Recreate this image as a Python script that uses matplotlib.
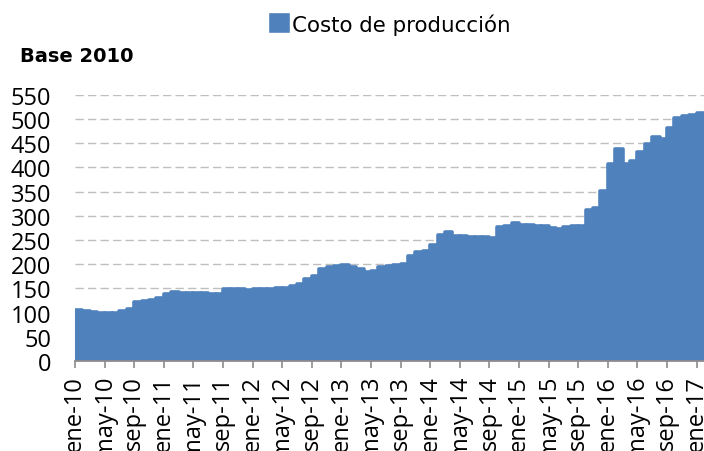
import matplotlib
matplotlib.use("Agg")
import matplotlib.pyplot as plt

azul = "#4F81BD"

meses = ["ene", "feb", "mar", "abr", "may", "jun",
         "jul", "ago", "sep", "oct", "nov", "dic"]
anios = ["10", "11", "12", "13", "14", "15", "16", "17"]

# ene-10 .. ene-17, indice base 2010
costo = [105, 104, 102, 99.5, 99, 100, 103, 107.5, 122, 124.5, 126.5, 129.5,
         137.5, 141.5, 140.5, 139.5, 141, 140, 138.5, 138, 149, 149.5, 149, 146.5,
         149.5, 148.5, 149, 150, 151, 154.5, 159, 168.5, 175.5, 189.5, 195, 197,
         197.5, 195, 190.5, 184, 186, 194, 195.5, 197.5, 200, 217.5, 225, 227,
         240.5, 261, 265.5, 259, 259, 256, 256, 256, 253.5, 276, 278.5, 284,
         281.5, 280.5, 279.5, 278, 275, 272.5, 277.5, 278.5, 279, 312, 316.5, 350.5,
         406, 437, 407.5, 413.5, 432, 447.5, 462.5, 457.5, 481, 502, 505, 507.5,
         512]

etiquetas = [m + "-" + a for a in anios for m in meses][:len(costo)]
posiciones = list(range(len(costo)))

fig = plt.figure(figsize=(7.04, 4.52), dpi=100)
ax = fig.add_axes([75 / 704, 1 - 362 / 452, 1 - 75 / 704, (362 - 95.7) / 452])

barras = ax.bar(posiciones, costo, width=1, align="edge", color=azul,
                edgecolor=azul, linewidth=2.6, joinstyle="round",
                label="Costo de producción", zorder=2)

ax.set_xlim(0, len(costo))
ax.set_ylim(0, 550)
ax.set_yticks(range(0, 551, 50))
ax.set_xticks(posiciones[::4])
ax.set_xticklabels(etiquetas[::4], rotation=90, fontsize=17, family="Open Sans")
for t in ax.get_yticklabels():
    t.set_fontsize(17)
    t.set_family("Open Sans")

ax.yaxis.grid(True, color="#BFBFBF", linestyle=(0, (6, 3)), linewidth=1.0, zorder=0)
ax.set_axisbelow(True)
for lado in ["top", "right", "left"]:
    ax.spines[lado].set_visible(False)
ax.spines["bottom"].set_color("#8C8C8C")
ax.spines["bottom"].set_linewidth(1.3)
ax.spines["bottom"].set_zorder(3)
ax.tick_params(axis="y", length=0, pad=17)
ax.tick_params(axis="x", length=5, width=1.2, color="#8C8C8C", pad=5)

fig.text(20 / 704, 1 - 57 / 452, "Base 2010", fontsize=14, fontweight="bold",
         va="center", ha="left")

fig.legend(handles=[barras], labels=["Costo de producción"], loc="center",
           bbox_to_anchor=(0.555, 1 - 25 / 452), frameon=False, fontsize=15.4,
           handlelength=0.8, handleheight=0.8, handletextpad=0.2, borderpad=0)

fig.savefig("out.png", dpi=100)
